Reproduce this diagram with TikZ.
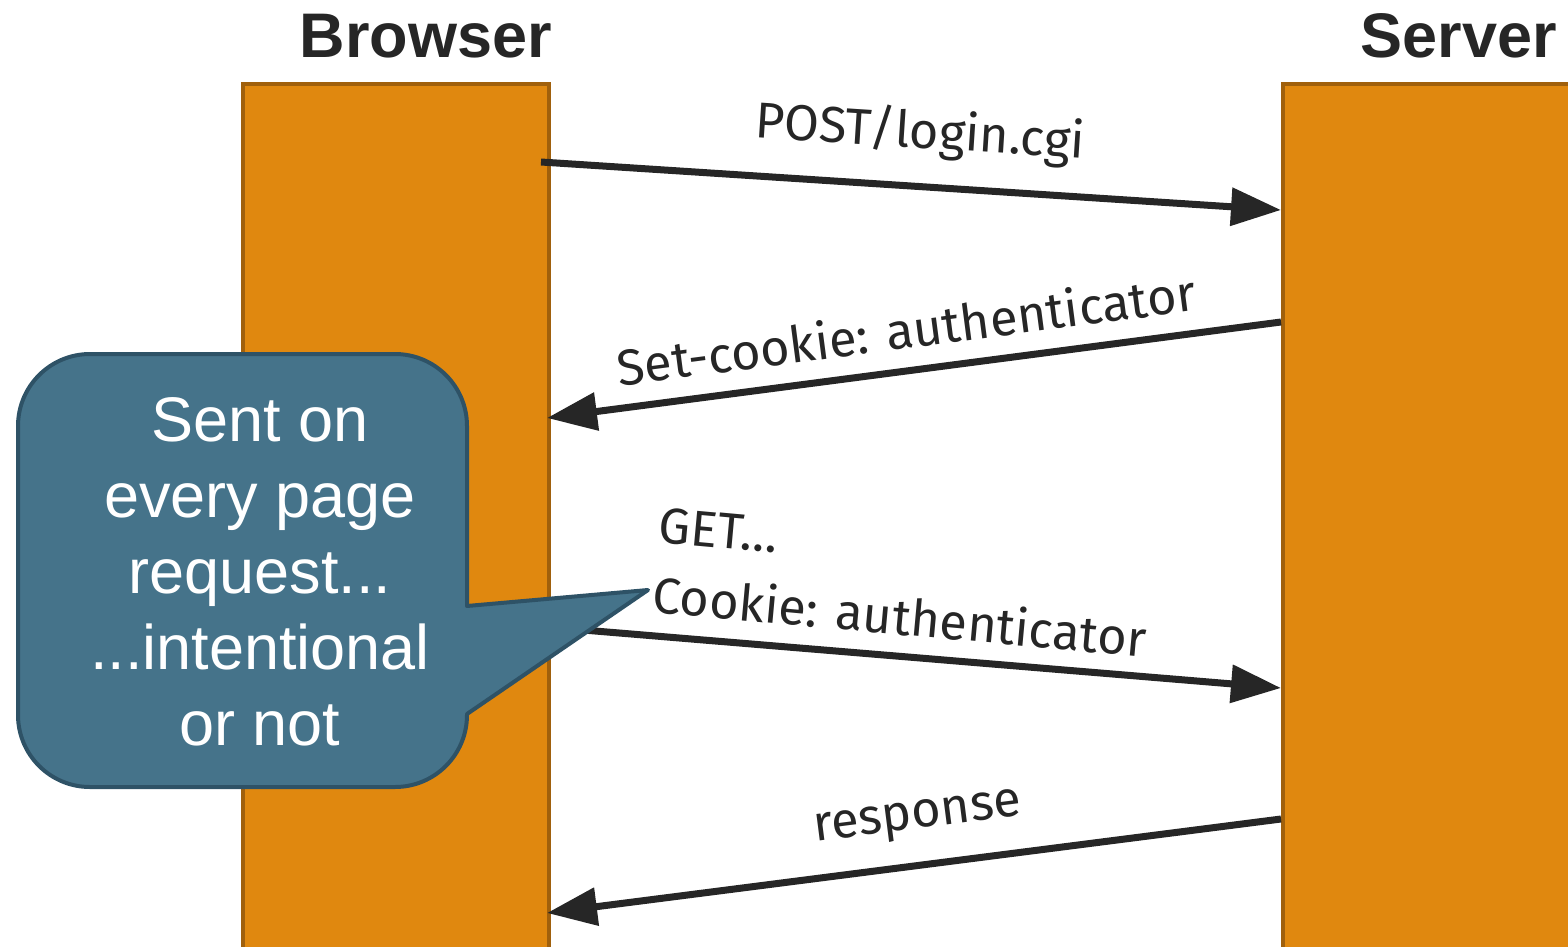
\documentclass[tikz,border=0pt]{standalone}
\usepackage{fontspec}
\setmainfont{Liberation Sans}
\newfontfamily\msgfont{Fira Sans}
\usetikzlibrary{arrows.meta}
\definecolor{barfill}{HTML}{E0880F}
\definecolor{barline}{HTML}{A0600C}
\definecolor{notefill}{HTML}{45738A}
\definecolor{noteline}{HTML}{2E5266}
\definecolor{ink}{HTML}{262626}
\tikzset{
  lifeline/.style={draw=barline, fill=barfill, line width=4pt, anchor=north west, inner sep=0pt},
  title/.style={font=\fontsize{63}{70}\selectfont\bfseries, text=ink, anchor=base, inner sep=0pt},
  msg/.style={draw=ink, line width=7pt, -{Triangle[length=50pt,width=37pt]}},
  msglabel/.style={font=\msgfont\fontsize{50.5}{70}\selectfont, text=ink, inner sep=0pt},
  callout/.style={fill=notefill, draw=noteline, line width=4pt, line join=round},
  notetext/.style={font=\fontsize{63}{76}\selectfont, text=white, align=center, inner sep=0pt}
}
\begin{document}
\begin{tikzpicture}[x=1pt, y=-1pt]
\useasboundingbox (0,0) rectangle (1568,947);

% lifelines and their headings
\node[lifeline, minimum width=306pt, minimum height=900pt] (browser) at (241,82) {};
\node[lifeline, minimum width=400pt, minimum height=900pt] (server) at (1281,82) {};
\node[title] (browsertitle) at (426,58) {Browser};
\node[title] (servertitle) at (1459,58) {Server};

% message end points on the lifelines
\coordinate (post-from) at (541,162);
\coordinate (post-to) at (1281,210);
\coordinate (set-from) at (1281,322);
\coordinate (set-to) at (547,418);
\coordinate (get-from) at (547,627);
\coordinate (get-to) at (1281,688);
\coordinate (resp-from) at (1281,819);
\coordinate (resp-to) at (547,913);

% messages
\draw[msg] (post-from) -- (post-to);
\draw[msg] (set-from) -- (set-to);
\draw[msg] (get-from) -- (get-to);
\draw[msg] (resp-from) -- (resp-to);

% message labels
\node[msglabel, rotate=-3.7] (postlabel) at (920,133) {POST/login.cgi};
\node[msglabel, rotate=7.45] (setlabel) at (906,329) {Set-cookie: authenticator};
\node[msglabel, rotate=-5.2, align=left, anchor=west] (getlabel) at (656,560) {GET…\\Cookie: authenticator};
\node[msglabel, rotate=7.3] (resplabel) at (918,820) {response};

% speech bubble pointing at the cookie header
\path[callout] (90,354) -- (395,354)
  arc[start angle=-90, end angle=0, radius=72]
  -- (467,606) -- (648,590) -- (467,714) -- (467,715)
  arc[start angle=0, end angle=90, radius=72]
  -- (90,787)
  arc[start angle=90, end angle=180, radius=72]
  -- (18,426)
  arc[start angle=180, end angle=270, radius=72]
  -- cycle;
\node[notetext] (note) at (260,572) {Sent on\\every page\\request...\\...intentional\\or not};
\end{tikzpicture}
\end{document}
